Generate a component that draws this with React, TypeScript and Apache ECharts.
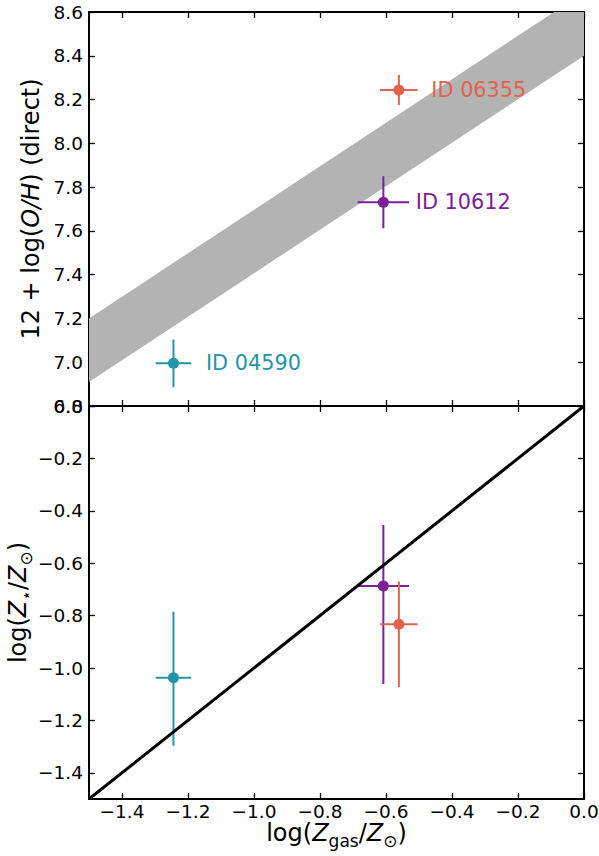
import React, { useEffect, useRef } from 'react';
import * as echarts from 'echarts';

const ids = ['ID 04590', 'ID 10612', 'ID 06355'];
const pointColors = ['#2196A8', '#7B2096', '#E1634D'];
const logZgas = [-1.244, -0.608, -0.561];
const logZgasErr = [0.054, 0.078, 0.057];
const ohDirect = [6.995, 7.731, 8.244];
const ohDirectErr = [0.109, 0.119, 0.069];
const logZstar = [-1.037, -0.687, -0.833];
const logZstarErrUp = [0.252, 0.233, 0.163];
const logZstarErrDown = [0.26, 0.374, 0.24];

const bandX = [-1.5, 0];
const bandLower = [6.91, 8.4];
const bandUpper = [7.2, 8.69];
const oneToOneX = [-1.5, 0];
const oneToOneY = [-1.5, 0];

const xTicks = [-1.4, -1.2, -1.0, -0.8, -0.6, -0.4, -0.2, 0.0];
const topYTicks = [6.8, 7.0, 7.2, 7.4, 7.6, 7.8, 8.0, 8.2, 8.4, 8.6];
const bottomYTicks = [-1.4, -1.2, -1.0, -0.8, -0.6, -0.4, -0.2, 0.0];

const FONT = 'DejaVu Sans';

const fmt = (v: number) => {
  const s = Math.abs(v).toFixed(1);
  return v < -1e-9 ? '\u2212' + s : s;
};

function makeAxis(opts: any) {
  const { gridIndex, position, min, max, ticks, showLabels, name, nameGap, nameRich } = opts;
  const ax: any = {
    type: 'value',
    gridIndex,
    position,
    min,
    max,
    axisLine: { show: true, onZero: false, lineStyle: { color: '#000', width: 2 } },
    axisTick: {
      show: true,
      inside: true,
      length: 6,
      customValues: ticks,
      lineStyle: { color: '#000', width: 1.3 },
    },
    axisLabel: {
      show: !!showLabels,
      customValues: ticks,
      formatter: fmt,
      fontFamily: FONT,
      fontSize: 18.5,
      lineHeight: 18,
      color: '#000',
      margin: position === 'bottom' ? 3 : 6,
      showMinLabel: true,
      showMaxLabel: true,
      hideOverlap: false,
    },
    splitLine: { show: false },
  };
  if (name) {
    ax.name = name;
    ax.nameLocation = 'middle';
    ax.nameGap = nameGap;
    ax.nameMoveOverlap = false;
    ax.nameTextStyle = {
      fontFamily: FONT,
      fontSize: 24,
      color: '#000',
      rich: nameRich,
    };
  }
  return ax;
}

const subRich = {
  n: { fontFamily: FONT, fontSize: 24, color: '#000', lineHeight: 28, verticalAlign: 'top' },
  i: { fontFamily: FONT, fontSize: 24, color: '#000', fontStyle: 'italic', lineHeight: 28, verticalAlign: 'top' },
  s: { fontFamily: FONT, fontSize: 17, color: '#000', lineHeight: 28, verticalAlign: 'bottom' },
};

export default function App() {
  const ref = useRef<HTMLDivElement>(null);
  useEffect(() => {
    if (!ref.current) return;
    const chart = echarts.init(ref.current, undefined, { renderer: 'svg' });

    const bandData = [[bandX[0], bandLower[0], bandUpper[0], bandX[1], bandLower[1], bandUpper[1]]];

    const errTop = ids.map((_, i) => [logZgas[i], ohDirect[i], logZgasErr[i], logZgasErr[i], ohDirectErr[i], ohDirectErr[i]]);
    const errBottom = ids.map((_, i) => [logZgas[i], logZstar[i], logZgasErr[i], logZgasErr[i], logZstarErrDown[i], logZstarErrUp[i]]);

    const renderErr = (params: any, api: any) => {
      const x = api.value(0);
      const y = api.value(1);
      const xl = api.value(2);
      const xh = api.value(3);
      const yl = api.value(4);
      const yh = api.value(5);
      const color = pointColors[params.dataIndex];
      const p1 = api.coord([x - xl, y]);
      const p2 = api.coord([x + xh, y]);
      const p3 = api.coord([x, y - yl]);
      const p4 = api.coord([x, y + yh]);
      return {
        type: 'group',
        children: [
          { type: 'line', shape: { x1: p1[0], y1: p1[1], x2: p2[0], y2: p2[1] }, style: { stroke: color, lineWidth: 2 } },
          { type: 'line', shape: { x1: p3[0], y1: p3[1], x2: p4[0], y2: p4[1] }, style: { stroke: color, lineWidth: 2 } },
        ],
      };
    };

    const renderBand = (_params: any, api: any) => {
      const x0 = api.value(0), lo0 = api.value(1), hi0 = api.value(2);
      const x1 = api.value(3), lo1 = api.value(4), hi1 = api.value(5);
      const pts = [
        api.coord([x0, lo0]),
        api.coord([x1, lo1]),
        api.coord([x1, hi1]),
        api.coord([x0, hi0]),
      ];
      return {
        type: 'polygon',
        shape: { points: pts },
        style: { fill: '#b3b3b3', stroke: 'none' },
      };
    };

    const option: any = {
      animation: false,
      backgroundColor: '#fff',
      grid: [
        { left: 89, top: 12, width: 495, height: 394, outerBoundsMode: 'none', containLabel: false },
        { left: 89, top: 406, width: 495, height: 393, outerBoundsMode: 'none', containLabel: false },
      ],
      xAxis: [
        makeAxis({ gridIndex: 0, position: 'bottom', min: -1.5, max: 0, ticks: xTicks }),
        makeAxis({ gridIndex: 0, position: 'top', min: -1.5, max: 0, ticks: xTicks }),
        makeAxis({
          gridIndex: 1, position: 'bottom', min: -1.5, max: 0, ticks: xTicks, showLabels: true,
          name: '{n|log(}{i|Z}{s|gas}{n|/}{i|Z}{s|\u2299}{n|)}', nameGap: 22, nameRich: subRich,
        }),
        makeAxis({ gridIndex: 1, position: 'top', min: -1.5, max: 0, ticks: xTicks }),
      ],
      yAxis: [
        makeAxis({
          gridIndex: 0, position: 'left', min: 6.8, max: 8.6, ticks: topYTicks, showLabels: true,
          name: '{n|12 + log(}{i|O/H}{n|) (direct)}', nameGap: 42, nameRich: subRich,
        }),
        makeAxis({ gridIndex: 0, position: 'right', min: 6.8, max: 8.6, ticks: topYTicks }),
        makeAxis({
          gridIndex: 1, position: 'left', min: -1.5, max: 0, ticks: bottomYTicks, showLabels: true,
          name: '{n|log(}{i|Z}{s|\u22C6}{n|/}{i|Z}{s|\u2299}{n|)}', nameGap: 55, nameRich: subRich,
        }),
        makeAxis({ gridIndex: 1, position: 'right', min: -1.5, max: 0, ticks: bottomYTicks }),
      ],
      series: [
        {
          type: 'custom', xAxisIndex: 0, yAxisIndex: 0, data: bandData, clip: true,
          encode: { x: [0, 3], y: [1, 2, 4, 5] }, renderItem: renderBand, z: 1, silent: true,
        },
        {
          type: 'custom', xAxisIndex: 0, yAxisIndex: 0, data: errTop,
          encode: { x: 0, y: 1 }, renderItem: renderErr, z: 3,
        },
        {
          type: 'scatter', xAxisIndex: 0, yAxisIndex: 0, symbolSize: 11, z: 4,
          data: ids.map((id, i) => ({
            value: [logZgas[i], ohDirect[i]],
            itemStyle: { color: pointColors[i], opacity: 1 },
            label: {
              show: true, position: 'right', distance: 27, formatter: id,
              color: pointColors[i], fontFamily: FONT, fontSize: 20.8,
            },
          })),
        },
        {
          type: 'custom', xAxisIndex: 2, yAxisIndex: 2, data: errBottom,
          encode: { x: 0, y: 1 }, renderItem: renderErr, z: 3,
        },
        {
          type: 'line', xAxisIndex: 2, yAxisIndex: 2, z: 5,
          data: oneToOneX.map((x, i) => [x, oneToOneY[i]]),
          symbol: 'none', lineStyle: { color: '#000', width: 3 },
        },
        {
          type: 'scatter', xAxisIndex: 2, yAxisIndex: 2, symbolSize: 11, z: 6,
          data: ids.map((id, i) => ({
            value: [logZgas[i], logZstar[i]],
            itemStyle: { color: pointColors[i], opacity: 1 },
          })),
        },
      ],
    };
    chart.setOption(option);
    return () => chart.dispose();
  }, []);
  return (
    <div
      ref={ref}
      style={{ position: 'absolute', left: 0, top: 0, width: 599, height: 856 }}
    />
  );
}
